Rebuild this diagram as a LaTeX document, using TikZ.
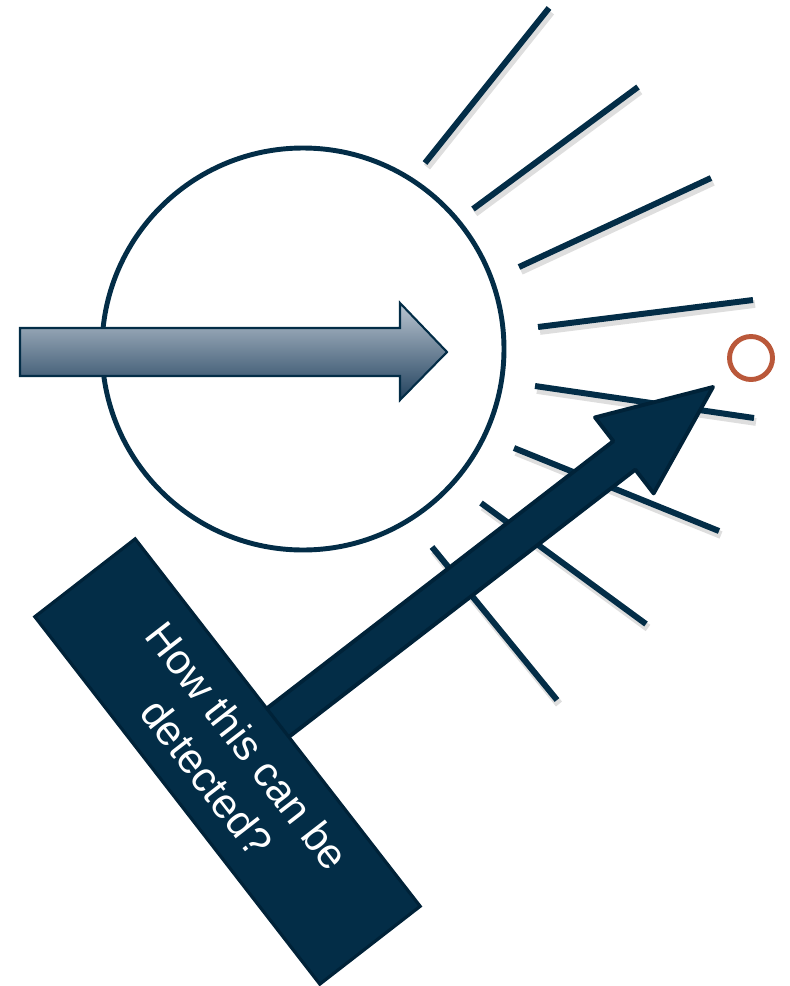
\documentclass[tikz,border=0pt]{standalone}
\usepackage{fontspec}
\setsansfont{Liberation Sans}
\usetikzlibrary{calc}
\definecolor{navy}{RGB}{3,45,71}
\definecolor{navydark}{RGB}{0,34,56}
\definecolor{rust}{RGB}{186,88,58}
\definecolor{steellight}{RGB}{186,197,209}
\definecolor{steeldark}{RGB}{34,66,94}

\tikzset{
  ray/.style={draw=navy, line width=1.7pt,
    preaction={draw=black!13, line width=2.2pt,
      transform canvas={shift={(0.2mm,-0.4mm)}}}},
  pointer/.style={fill=navy, draw=navydark, line width=1.1pt, line join=round},
}

\begin{document}
\begin{tikzpicture}[x=0.1mm, y=-0.1mm, font=\sffamily]
  \useasboundingbox (0,0) rectangle (790,986);
  % scattered rays around the sphere
  \draw[ray] (425,163) -- (549,8);
  \draw[ray] (473,209) -- (638,87);
  \draw[ray] (519,267) -- (711,178);
  \draw[ray] (538,327) -- (753,300);
  \draw[ray] (535,386) -- (754,418);
  \draw[ray] (514,448) -- (719,531);
  \draw[ray] (481,503) -- (646,624);
  \draw[ray] (432,547) -- (557,700);

  % scattering sphere
  \node[circle, draw=navy, line width=1.4pt, inner sep=0pt,
        minimum size=40.2mm] (sphere) at (303,349) {};

  % incoming beam
  \shade[top color=steellight, bottom color=steeldark, draw=navy, line width=0.6pt]
    (20,328) -- (400,328) -- (400,303) -- (447,352) -- (400,400)
    -- (400,376) -- (20,376) -- cycle;

  % detector
  \node[circle, draw=rust, line width=1.4pt, inner sep=0pt,
        minimum size=4.3mm] (detector) at (751,358) {};

  % question arrow and box
  \coordinate (stem) at (227.5,761.5);
  \coordinate (aim) at (713,387);
  \coordinate (hb) at ($(aim)!11.2mm!(stem)$);
  \draw[pointer] ($(stem)!1.8mm!90:(aim)$) -- ($(hb)!1.8mm!90:(aim)$)
    -- ($(hb)!4.8mm!90:(aim)$) -- (aim) -- ($(hb)!4.8mm!-90:(aim)$)
    -- ($(hb)!1.8mm!-90:(aim)$) -- ($(stem)!1.8mm!-90:(aim)$) -- cycle;
  \node[fill=navy, draw=navydark, line width=0.9pt, rotate=-52.2,
        minimum width=46.5mm, minimum height=12.7mm, text=white, align=center,
        font=\sffamily\fontsize{12}{14.6}\selectfont] (question) at (stem)
    {How this can be\\detected?};
\end{tikzpicture}
\end{document}
